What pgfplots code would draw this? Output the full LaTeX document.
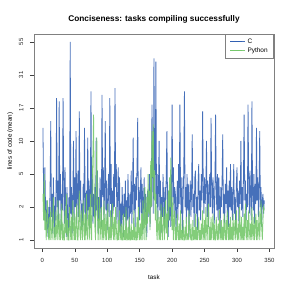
\documentclass[border=0pt]{standalone}
\usepackage{pgfplots}
\pgfplotsset{compat=1.18}
\usepackage{fontspec}
\setmainfont{Liberation Sans}
\definecolor{cblue}{RGB}{50,96,178}
\definecolor{pygreen}{RGB}{118,200,108}
\definecolor{boxgray}{RGB}{128,128,128}
\begin{document}
\begin{tikzpicture}
\begin{axis}[
  scale only axis,
  width=240bp, height=214bp,
  at={(0,0)}, anchor=south west,
  xmin=-12.8, xmax=357,
  ymin=-0.24, ymax=6.24,
  xtick={0,50,...,350},
  ytick={0,1,2,3,4,5,6},
  yticklabels={1,2,5,10,17,31,55},
  tick pos=left,
  tick align=outside,
  major tick length=4bp,
  tick style={black!75, line width=0.5bp},
  axis line style={boxgray, line width=0.6bp},
  /pgf/number format/assume math mode=true,
  ticklabel style={font=\fontsize{6}{7}\selectfont, text=black!85},
  yticklabel style={rotate=90, anchor=south, inner sep=6.5bp},
  xticklabel style={inner sep=2bp, yshift=-4.5bp},
  title={Conciseness: tasks compiling successfully},
  title style={font=\bfseries\fontsize{8.3}{9}\selectfont, at={(axis description cs:0.5,1)}, anchor=base, yshift=7bp},
  xlabel={task},
  xlabel style={font=\fontsize{6.3}{7}\selectfont, at={(axis description cs:0.5,0)}, anchor=base, yshift=-31bp},
  ylabel={lines of code (mean)},
  ylabel style={font=\fontsize{6.3}{7}\selectfont, at={(axis description cs:-0.0917,0.5)}, anchor=base},
  legend style={at={(axis description cs:1,1)}, anchor=north east, draw=boxgray, line width=0.6bp,
    font=\fontsize{6.5}{7.5}\selectfont, inner xsep=4bp, inner ysep=2.5bp, row sep=-1.5bp,
    nodes={inner sep=2bp}, cells={anchor=west}},
  legend cell align=left,
  legend image code/.code={\draw[#1, line width=1.2bp, opacity=1] (0bp,0bp) -- (12bp,0bp); \path (0bp,0bp) -- (15bp,0bp);},
]
\addplot[cblue, line width=0.8bp, opacity=0.9] table[row sep=\\, x expr=\coordindex+1, y=v] {
v\\
3.4\\1.4\\0.6\\2.2\\0.9\\0.3\\1.2\\0.4\\0.1\\1.0\\
0.5\\1.6\\3.6\\0.7\\1.4\\0.2\\1.9\\0.8\\0.1\\1.3\\
0.6\\4.3\\1.0\\1.8\\0.4\\4.2\\1.2\\2.0\\0.3\\1.4\\
0.9\\4.3\\1.6\\0.5\\2.2\\1.0\\0.1\\1.6\\0.7\\0.1\\
1.3\\0.4\\6.0\\0.8\\1.6\\0.2\\1.1\\3.0\\0.6\\1.9\\
1.0\\3.3\\0.5\\1.4\\2.1\\0.7\\3.9\\1.2\\1.8\\0.3\\
1.1\\0.4\\1.7\\0.8\\3.4\\1.3\\0.2\\1.5\\0.6\\3.1\\
0.9\\1.8\\0.3\\1.2\\4.5\\1.0\\2.0\\0.5\\1.4\\0.7\\
1.6\\0.4\\3.1\\0.9\\2.1\\0.2\\1.3\\0.6\\1.9\\1.0\\
0.4\\4.4\\1.3\\2.2\\0.6\\1.6\\3.6\\0.9\\1.8\\0.3\\
1.2\\2.0\\0.7\\4.3\\1.1\\2.3\\0.4\\1.5\\0.8\\2.0\\
1.0\\4.6\\1.6\\2.3\\0.5\\1.3\\2.2\\0.6\\1.9\\0.2\\
1.1\\0.4\\1.6\\0.9\\0.1\\1.4\\0.7\\1.8\\0.3\\1.2\\
0.6\\2.0\\1.0\\0.2\\1.4\\0.8\\2.1\\0.5\\1.3\\3.1\\
0.9\\1.7\\0.4\\1.9\\1.2\\2.3\\3.7\\1.0\\1.6\\0.6\\
1.4\\2.2\\0.8\\1.7\\0.3\\1.2\\1.9\\0.5\\1.4\\0.9\\
0.1\\1.5\\0.7\\1.2\\2.0\\0.4\\1.6\\1.0\\4.1\\1.9\\
0.8\\5.5\\2.2\\1.4\\5.4\\1.1\\2.0\\0.6\\1.6\\3.0\\
0.9\\1.8\\0.2\\1.3\\0.7\\2.0\\1.2\\0.3\\1.6\\0.8\\
2.0\\3.3\\1.0\\0.1\\1.5\\0.6\\1.7\\0.4\\1.1\\4.1\\
1.3\\2.2\\0.7\\1.6\\1.4\\0.3\\1.0\\1.8\\0.6\\2.3\\
1.1\\4.1\\1.4\\0.8\\1.9\\0.2\\1.3\\2.1\\4.5\\1.0\\
1.6\\0.5\\2.0\\0.9\\1.7\\0.1\\1.2\\1.8\\0.7\\1.5\\
3.2\\1.0\\1.4\\0.4\\1.9\\2.1\\0.8\\1.3\\0.3\\1.7\\
2.3\\0.9\\1.5\\0.6\\2.0\\1.2\\3.9\\1.6\\0.8\\1.9\\
1.1\\1.6\\3.0\\0.7\\1.8\\0.4\\1.4\\2.0\\1.0\\3.7\\
1.5\\0.8\\1.9\\1.3\\0.5\\1.7\\3.8\\1.4\\0.9\\2.0\\
0.6\\1.9\\1.2\\0.2\\1.6\\1.0\\1.8\\3.2\\0.8\\1.4\\
0.5\\1.7\\1.1\\2.2\\0.7\\1.5\\0.4\\1.8\\1.0\\2.3\\
0.9\\1.6\\0.6\\1.4\\2.3\\0.8\\1.3\\0.3\\1.7\\2.2\\
1.0\\1.5\\0.5\\1.8\\1.1\\3.0\\0.9\\1.6\\0.7\\2.0\\
3.8\\1.2\\1.8\\0.6\\1.4\\1.0\\4.1\\1.7\\0.8\\2.1\\
1.3\\0.6\\4.2\\1.4\\0.9\\2.0\\0.5\\1.7\\1.1\\3.4\\
1.2\\1.9\\0.7\\1.5\\3.3\\1.0\\1.6\\0.4\\1.2\\1.4\\
0.8\\1.2\\
};
\addlegendentry{C}
\addplot[pygreen, line width=0.8bp, opacity=0.9] table[row sep=\\, x expr=\coordindex+1, y=v] {
v\\
1.4\\0.6\\2.0\\0.3\\0.9\\0\\0.5\\1.2\\0.2\\0\\
0.7\\0\\1.0\\0.3\\0\\0.6\\1.3\\0\\0.4\\0\\
0.9\\0.2\\0\\1.2\\0.4\\0\\0.8\\0\\0.3\\1.1\\
0\\0.5\\0\\0\\0.9\\0.2\\1.4\\0\\0.6\\0\\
0\\1.0\\0.3\\0\\0.7\\0\\1.2\\0.4\\0\\0.8\\
0\\0.3\\1.1\\0\\0\\0.6\\1.5\\0.2\\0\\0.9\\
0.3\\0\\1.2\\0.5\\0\\0.8\\0\\1.4\\0.3\\0\\
0.6\\1.0\\0\\1.4\\0.5\\0\\1.8\\2.6\\3.8\\1.2\\
0.4\\0\\1.5\\3.1\\0.8\\0\\0.5\\1.3\\0\\0.4\\
1.0\\0\\0.6\\0\\1.2\\0.3\\0\\0.8\\0\\0.5\\
1.1\\0\\0.4\\0\\0.9\\0\\0.2\\1.1\\0.3\\0\\
0.7\\0\\1.0\\0.4\\0\\0\\0.6\\0\\0.9\\0.2\\
0\\0.5\\0\\0\\0.8\\0\\0.3\\0\\1.0\\0\\
0\\0.4\\0\\0.7\\0\\0\\0.5\\0\\0.3\\0\\
0.9\\0\\0.4\\0\\0\\0.7\\0\\1.0\\0.2\\0\\
0.5\\0\\0.8\\0\\1.2\\0.4\\0\\1.6\\0.6\\0\\
1.3\\0.5\\2.0\\0.8\\1.5\\0.3\\2.4\\1.0\\3.3\\1.9\\
3.5\\1.2\\2.1\\0.6\\1.4\\0.3\\0\\0.9\\0.4\\0\\
0.7\\0\\1.1\\0.3\\0\\0.6\\1.0\\0\\0.4\\1.2\\
0.2\\0.8\\0\\1.5\\0.6\\1.9\\1.0\\2.5\\0.7\\0.3\\
1.3\\0\\0.6\\0.9\\0\\0.4\\0\\0.8\\0.2\\0\\
0.5\\0\\0.9\\0\\0.3\\0\\0.6\\0\\0\\0.4\\
0\\0.7\\0\\0.2\\0\\0.9\\0.3\\0\\0.5\\0\\
0\\0.6\\0\\0.3\\0\\0.8\\0\\0.4\\0\\0.2\\
0.7\\0\\0.3\\0\\0.5\\0\\0.9\\0.2\\0\\0.6\\
0\\1.0\\0.3\\0\\0.6\\1.1\\0\\0.4\\0\\0.7\\
0\\0.3\\0.8\\0\\0.5\\0\\0\\0.7\\0.2\\0\\
0.5\\0\\0.9\\0.3\\0\\0.6\\0\\0.4\\0\\0.8\\
0.2\\0\\0.6\\0\\0.9\\0.3\\0\\0.5\\0\\0.7\\
0\\0.4\\0\\0.8\\0\\0.3\\0.6\\0\\0.9\\0.2\\
0\\0.5\\0\\1.0\\0.3\\0\\0.7\\0\\0.4\\0\\
0.8\\0\\1.1\\0.4\\0\\0.6\\0\\0.9\\0.3\\0\\
0.5\\0\\1.0\\0.2\\0\\0.7\\0\\0.4\\0.8\\0\\
0.6\\0\\0.3\\0.9\\0\\0.5\\1.2\\0.4\\0\\0.6\\
1.0\\0.9\\
};
\addlegendentry{Python}
\end{axis}
\pgfresetboundingbox
\path[use as bounding box] (-34bp,-43bp) rectangle (257bp,248bp);
\end{tikzpicture}
\end{document}
